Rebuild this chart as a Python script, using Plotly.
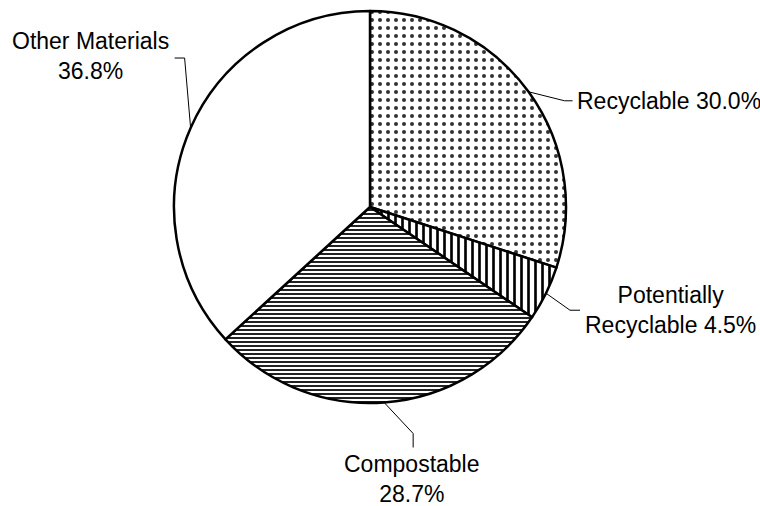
import math
import plotly.graph_objects as go

labels = ["Recyclable", "Potentially<br>Recyclable", "Compostable", "Other Materials"]
values = [30.0, 4.5, 28.7, 36.8]
text_labels = ["Recyclable 30.0%", "Potentially<br>Recyclable 4.5%", "Compostable<br>28.7%", "Other Materials<br>36.8%"]
patterns = [".", "|", "-", ""]

W, H = 760, 506
CX, CY, R = 370, 207, 196

fig = go.Figure(go.Pie(
    labels=labels, values=values, sort=False, direction="clockwise", rotation=0,
    textinfo="none", hoverinfo="label+percent", showlegend=False,
    domain=dict(x=[(CX - R) / W, (CX + R) / W], y=[1 - (CY + R) / H, 1 - (CY - R) / H]),
    marker=dict(
        colors=["white"] * 4,
        line=dict(color="black", width=2.5),
        pattern=dict(shape=patterns, fgcolor=["#333", "black", "#222", "black"],
                     bgcolor="white", size=[8, 7, 4, 8], solidity=[0.2, 0.38, 0.5, 0.3]),
    ),
))

# leader line geometry (offsets relative to slice edge point), styles only
elbow = [(36, 9), (24, 17), (29, 31), (-6, -70)]
tail = [(8, 0), (10, 0), (0, 14), (-10, 0)]
text_pos = [(575, 101, "left"), (670, 310, "center"), (412, 479, "center"), (90, 56, "center")]

def px(x):
    return x / W

def py(y):
    return 1 - y / H

total = sum(values)
cum = 0
for i, v in enumerate(values):
    mid = (cum + v / 2) / total * 2 * math.pi
    cum += v
    ex = CX + R * math.sin(mid)
    ey = CY - R * math.cos(mid)
    bx, by = ex + elbow[i][0], ey + elbow[i][1]
    tx, ty = bx + tail[i][0], by + tail[i][1]
    fig.add_shape(type="path", xref="paper", yref="paper",
                  path=f"M {px(ex)} {py(ey)} L {px(bx)} {py(by)} L {px(tx)} {py(ty)}",
                  line=dict(color="black", width=1))
    x, y, anc = text_pos[i]
    fig.add_annotation(x=px(x), y=py(y), xref="paper", yref="paper", text=text_labels[i],
                       showarrow=False, xanchor=anc, yanchor="middle", align="center",
                       font=dict(family="Liberation Sans, Arial", size=23, color="black"))

fig.update_layout(width=W, height=H, margin=dict(l=0, r=0, t=0, b=0),
                  paper_bgcolor="white", plot_bgcolor="white")
fig.write_html("out.html", config={"displayModeBar": False},
               post_script="document.body.style.margin='0';document.body.style.overflow='hidden';")
